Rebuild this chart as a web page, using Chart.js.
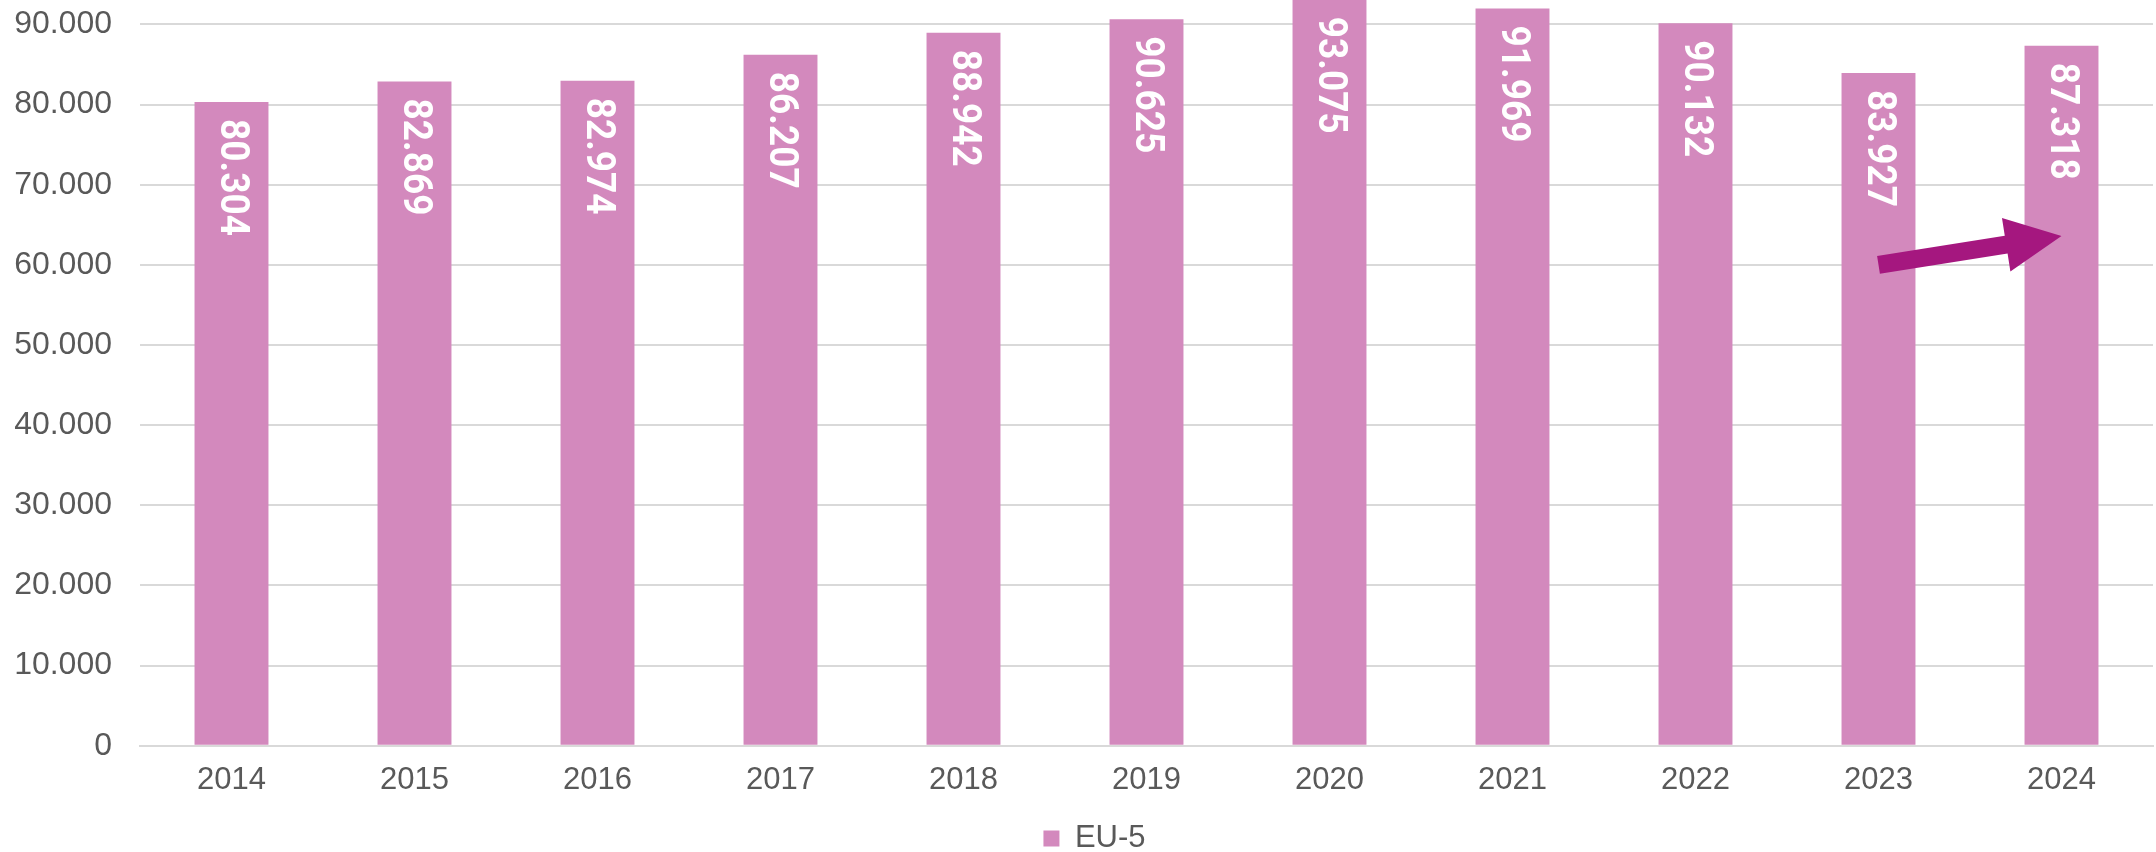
<!DOCTYPE html>
<html>
<head>
<meta charset="utf-8">
<script src="https://cdn.jsdelivr.net/npm/chart.js@4.4.1/dist/chart.umd.min.js"></script>
<style>
  html, body { margin: 0; padding: 0; background: #fff; overflow: hidden; }
  #wrap { position: absolute; left: 0; top: -103px; width: 2156px; height: 967px; }
</style>
</head>
<body>
<div id="wrap"><canvas id="chart"></canvas></div>
<script>
// chart data
const years = ['2014', '2015', '2016', '2017', '2018', '2019', '2020', '2021', '2022', '2023', '2024'];
const eu5 = [80304, 82869, 82974, 86207, 88942, 90625, 93075, 91969, 90132, 83927, 87318];
const yTicks = [0, 10000, 20000, 30000, 40000, 50000, 60000, 70000, 80000, 90000, 100000];
// arrow from 2023 to 2024 (category index, value)
const arrowFrom = [9, 60000];
const arrowTo = [10, 63600];

const BAR = '#D389BD';
const TEXT = '#595959';
const FONT = '"Liberation Sans", Arial, sans-serif';

function fmt(v) {
    return v === 0 ? '0' : v.toLocaleString('de-DE');
}

// white rotated value labels inside bar tops
const valueLabels = {
    id: 'valueLabels',
    afterDatasetsDraw(chart) {
        const ctx = chart.ctx;
        const meta = chart.getDatasetMeta(0);
        ctx.save();
        ctx.fillStyle = '#fff';
        ctx.font = 'bold 37px Roboto, "Liberation Sans", Arial, sans-serif';
        ctx.textAlign = 'left';
        ctx.textBaseline = 'middle';
        meta.data.forEach((bar, i) => {
            ctx.save();
            ctx.translate(bar.x, bar.y + 17);
            ctx.rotate(Math.PI / 2);
            ctx.scale(1, 1.1);
            ctx.fillText(fmt(eu5[i]), 0, 0);
            ctx.restore();
        });
        ctx.restore();
    }
};

// the magenta arrow
const arrow = {
    id: 'arrow',
    afterDatasetsDraw(chart) {
        const { ctx, scales: { x, y } } = chart;
        const x1 = x.getPixelForValue(arrowFrom[0]), y1 = y.getPixelForValue(arrowFrom[1]);
        const x2 = x.getPixelForValue(arrowTo[0]), y2 = y.getPixelForValue(arrowTo[1]);
        const ang = Math.atan2(y2 - y1, x2 - x1);
        const len = Math.hypot(x2 - x1, y2 - y1);
        const headLen = 56, headW = 27, shaft = 9;
        ctx.save();
        ctx.translate(x1, y1);
        ctx.rotate(ang);
        ctx.fillStyle = '#A5177F';
        ctx.beginPath();
        ctx.moveTo(0, -shaft);
        ctx.lineTo(len - headLen, -shaft);
        ctx.lineTo(len - headLen, -headW);
        ctx.lineTo(len, 0);
        ctx.lineTo(len - headLen, headW);
        ctx.lineTo(len - headLen, shaft);
        ctx.lineTo(0, shaft);
        ctx.closePath();
        ctx.fill();
        ctx.restore();
    }
};

// nudge the legend a little to the right, like the original
const legendShift = {
    id: 'legendShift',
    afterLayout(chart) {
        if (chart.legend) chart.legend.left += 36;
    }
};

new Chart(document.getElementById('chart'), {
    type: 'bar',
    data: {
        labels: years,
        datasets: [{
            label: 'EU-5',
            data: eu5,
            backgroundColor: BAR,
            barPercentage: 0.404,
            categoryPercentage: 1
        }]
    },
    options: {
        responsive: true,
        maintainAspectRatio: false,
        animation: false,
        layout: { padding: { top: 22, right: 3, left: 0, bottom: 0 } },
        plugins: {
            legend: {
                position: 'bottom',
                labels: {
                    color: TEXT,
                    font: { size: 31, family: FONT },
                    boxWidth: 16,
                    boxHeight: 16,
                    padding: 8
                }
            },
            tooltip: { enabled: false }
        },
        scales: {
            x: {
                grid: { display: false, drawTicks: false },
                border: { color: '#D9D9D9', width: 2 },
                ticks: {
                    color: TEXT,
                    padding: 16,
                    font: { size: 31, family: FONT }
                }
            },
            y: {
                min: 0,
                max: 100000,
                afterFit(scale) { scale.width = 140; },
                afterBuildTicks(scale) {
                    scale.ticks = yTicks.map(v => ({ value: v }));
                },
                grid: { color: '#D9D9D9', lineWidth: 2, drawTicks: false },
                border: { display: false },
                ticks: {
                    color: TEXT,
                    padding: 28,
                    font: { size: 32, family: FONT },
                    callback: v => fmt(v)
                }
            }
        }
    },
    plugins: [valueLabels, arrow, legendShift]
});
</script>
</body>
</html>
